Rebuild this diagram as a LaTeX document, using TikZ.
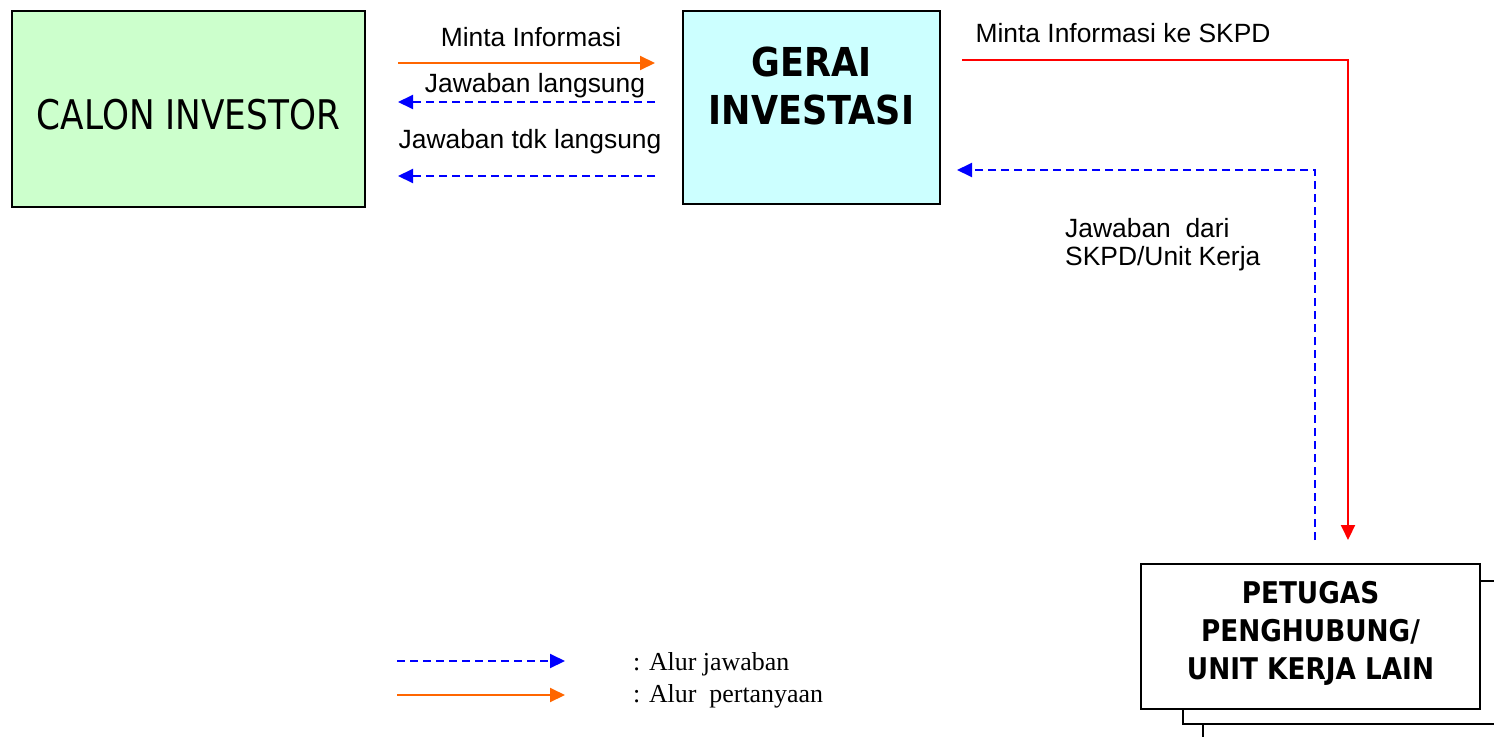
\documentclass[tikz,border=0pt]{standalone}
\usepackage{fontspec}
\setmainfont{Liberation Sans}
\newfontfamily\boxfont[FakeStretch=0.84]{DejaVu Sans}
\newfontfamily\boxbold[FakeStretch=0.88]{DejaVu Sans Bold}
\newfontfamily\legendfont{Liberation Serif}
\usetikzlibrary{arrows.meta}
\definecolor{greenbox}{HTML}{CCFFCC}
\definecolor{cyanbox}{HTML}{CCFFFF}
\definecolor{orangeq}{HTML}{FF6600}
\definecolor{blueans}{HTML}{0000FF}
\definecolor{redreq}{HTML}{FF0000}
\begin{document}
\begin{tikzpicture}[x=1bp,y=-1bp,
  box/.style={draw=black,line width=2bp,inner sep=0pt},
  boxtext/.style={inner sep=0pt,align=center,anchor=center},
  lbl/.style={font=\fontsize{26.5}{30}\selectfont,inner sep=0pt,anchor=base},
  leg/.style={font=\legendfont\fontsize{26}{30}\selectfont,inner sep=0pt,anchor=base west},
  tip/.style={-{Triangle[length=15bp,width=14bp]}},
  ask/.style={draw=orangeq,line width=2bp,tip},
  ans/.style={draw=blueans,line width=2bp,dash pattern=on 8bp off 5bp,tip},
  req/.style={draw=redreq,line width=2bp,tip}
]
\useasboundingbox (0,0) rectangle (1494,737);
\clip (0,0) rectangle (1494,737);

% stacked back boxes
\draw[line width=2bp,fill=white] (1203,600) rectangle (1560,770);
\draw[line width=2bp,fill=white] (1183,581) rectangle (1540,724);

% main boxes
\node[box,fill=greenbox,minimum width=353bp,minimum height=196bp] (calon) at (188.5,109) {};
\node[box,fill=cyanbox,minimum width=257bp,minimum height=193bp] (gerai) at (811.5,107.5) {};
\node[box,fill=white,minimum width=339bp,minimum height=145bp] (petugas) at (1310.5,636.5) {};

\node[boxtext,font=\boxfont\fontsize{41}{48}\selectfont] (calontxt) at (188.5,115) {CALON INVESTOR};
\node[boxtext,font=\boxbold\fontsize{40}{48}\selectfont] (geraitxt) at (811.5,86.4) {GERAI\\INVESTASI};
\node[boxtext,font=\boxbold\fontsize{30}{38.5}\selectfont] (petugastxt) at (1310.5,633.5) {PETUGAS\\PENGHUBUNG/\\UNIT KERJA LAIN};

% connector end points
\coordinate (q1s) at (398,63);   \coordinate (q1e) at (655,63);
\coordinate (a1s) at (655,102);  \coordinate (a1e) at (398,102);
\coordinate (a2s) at (655,176);  \coordinate (a2e) at (398,176);
\coordinate (rs) at (962,60);    \coordinate (re) at (1348,540);
\coordinate (bs) at (1315,540);  \coordinate (be) at (957,170);

\draw[ask] (q1s) -- (q1e);
\draw[ans] (a1s) -- (a1e);
\draw[ans] (a2s) -- (a2e);
\draw[req] (rs) -| (re);
\draw[ans] (bs) |- (be);

% labels
\node[lbl] (tq1) at (531,47) {Minta Informasi};
\node[lbl] (ta1) at (535,92.5) {Jawaban langsung};
\node[lbl] (ta2) at (530,148) {Jawaban tdk langsung};
\node[lbl] (tr) at (1123,43) {Minta Informasi ke SKPD};
\node[lbl,anchor=base west] (tb1) at (1065,237) {Jawaban\ \ dari};
\node[lbl,anchor=base west] (tb2) at (1065,265) {SKPD/Unit Kerja};

% legend
\coordinate (l1s) at (397,661); \coordinate (l1e) at (565,661);
\coordinate (l2s) at (397,695); \coordinate (l2e) at (565,695);
\draw[ans] (l1s) -- (l1e);
\draw[ask] (l2s) -- (l2e);
\node[leg] (lt1) at (633,670) {: Alur jawaban};
\node[leg] (lt2) at (633,702) {: Alur\ \ pertanyaan};
\end{tikzpicture}
\end{document}
